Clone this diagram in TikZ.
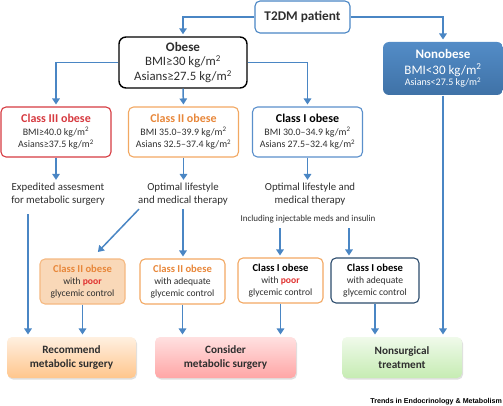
\documentclass[tikz,border=0pt]{standalone}
\usepackage{fontspec}
\setmainfont{Carlito}
\newfontfamily\trendsfont{Liberation Sans}
\usetikzlibrary{positioning,arrows.meta,shadows}
\definecolor{flowblue}{HTML}{4A86C4}
\definecolor{inkgray}{HTML}{2E2E2E}
\definecolor{cthree}{HTML}{D63A40}
\definecolor{ctwo}{HTML}{F2A862}
\definecolor{ctwotext}{HTML}{E8873A}
\definecolor{cone}{HTML}{5A8FCB}
\definecolor{navy}{HTML}{2B4B6C}
\definecolor{poorred}{HTML}{E0312F}
\newcommand\fsz[2]{\fontsize{#1}{#2}\selectfont}
\tikzset{
  box/.style={draw, rounded corners=5pt, line width=1.1pt, align=center, text=inkgray, inner sep=1pt},
  classbox/.style={box, minimum width=110pt, minimum height=50pt, font=\fsz{9.9}{12.5}},
  glybox/.style={box, minimum width=85pt, minimum height=45pt, font=\fsz{9.6}{12}},
  endbox/.style={box, draw=none, minimum height=41pt, font=\fsz{11.2}{14}\bfseries,
    drop shadow={shadow xshift=1pt, shadow yshift=-1.5pt, opacity=0.25}},
  note/.style={align=center, text=inkgray, inner sep=1pt, font=\fsz{10.8}{12.5}},
  flow/.style={draw=flowblue, line width=1.5pt, -{Triangle[length=6pt,width=7.5pt]}, shorten >=2pt},
}
\begin{document}
\begin{tikzpicture}[x=1pt,y=-1pt]
\useasboundingbox (0,0) rectangle (503,406);

\node[box, draw=flowblue, minimum width=95pt, minimum height=32pt, font=\fsz{13.3}{15}\bfseries] (t) at (302.5,17) {T2DM patient};
\node[box, draw=black, line width=1.4pt, rounded corners=7pt, minimum width=128pt, minimum height=51pt, font=\fsz{12.8}{14.5}] (o) at (183,62.5)
  {{\fsz{13}{14.5}\bfseries Obese}\\BMI≥30 kg/m\textsuperscript{2}\\Asians≥27.5 kg/m\textsuperscript{2}};
\node[box, draw=none, top color=flowblue!95, bottom color=flowblue!85!black, rounded corners=6pt, text=white, minimum width=120pt, minimum height=53pt, font=\fsz{13}{15.5}] (n) at (443,68.5)
  {{\bfseries Nonobese}\\BMI<30 kg/m\textsuperscript{2}\\[-4pt]{\fsz{10}{11}Asians<27.5 kg/m\textsuperscript{2}}};

\node[classbox, draw=cthree] (c3) at (56,132)
  {{\fsz{12}{12.5}\bfseries\color{cthree}Class III obese}\\BMI≥40.0 kg/m\textsuperscript{2}\\Asians≥37.5 kg/m\textsuperscript{2}};
\node[classbox, draw=ctwo] (c2) at (183.5,132)
  {{\fsz{12}{12.5}\bfseries\color{ctwotext}Class II obese}\\BMI 35.0--39.9 kg/m\textsuperscript{2}\\Asians 32.5--37.4 kg/m\textsuperscript{2}};
\node[classbox, draw=cone] (c1) at (307.5,132)
  {{\fsz{12}{12.5}\bfseries\color{black}Class I obese}\\BMI 30.0--34.9 kg/m\textsuperscript{2}\\Asians 27.5--32.4 kg/m\textsuperscript{2}};

\node[note] (x3) at (58,194) {Expedited assesment\\for metabolic surgery};
\node[note] (x2) at (183,194) {Optimal lifestyle\\and medical therapy};
\node[note] (x1) at (310,194) {Optimal lifestyle and\\medical therapy};
\node[note, font=\fsz{9}{10}] (inc) at (308,219) {Including injectable meds and insulin};

\node[glybox, draw=ctwo!80, fill=ctwo!45] (p2) at (82.5,281.5)
  {{\fsz{10.6}{12}\bfseries\color{ctwotext}Class II obese}\\with {\bfseries\color{poorred}poor}\\glycemic control};
\node[glybox, draw=ctwo] (a2) at (182.5,281.5)
  {{\fsz{10.6}{12}\bfseries\color{ctwotext}Class II obese}\\with adequate\\glycemic control};
\node[glybox, draw=ctwo] (p1) at (280.5,280.5)
  {{\fsz{10.6}{12}\bfseries\color{black}Class I obese}\\with {\bfseries\color{poorred}poor}\\glycemic control};
\node[glybox, draw=navy, minimum width=88pt] (a1) at (375,280.5)
  {{\fsz{10.6}{12}\bfseries\color{black}Class I obese}\\with adequate\\glycemic control};

\node[endbox, minimum width=129pt, top color=orange!12, bottom color=orange!45] (rec) at (71.5,357.5) {Recommend\\metabolic surgery};
\node[endbox, minimum width=141pt, top color=red!12, bottom color=red!35] (con) at (225.5,357.5) {Consider\\metabolic surgery};
\node[endbox, minimum width=120pt, top color=green!50!olive!8, bottom color=green!50!olive!30] (non) at (402,357.5) {Nonsurgical\\treatment};

\node[anchor=base east, inner sep=0pt, font=\trendsfont\bfseries\fsz{7.1}{9}] (src) at (502,403) {Trends in Endocrinology \& Metabolism};

\coordinate (l) at (28,214);

\draw[flow] (t.west) -| (o.north);
\draw[flow] (t.east) -| (n.north);
\draw[flow] (o.west) -| (c3.north);
\draw[flow] (o.south) -- (c2.north);
\draw[flow] (o.east) -| (c1.north);
\draw[flow] (c3.south) -- (c3.south |- x3.north);
\draw[flow] (c2.south) -- (c2.south |- x2.north);
\draw[flow] (c1.south) -- (c1.south |- x1.north);
\draw[flow] (l) -- (l |- rec.north);
\draw[flow] ([xshift=-44pt,yshift=-3pt]x2.south) -- ([xshift=14pt,yshift=5pt]p2.north);
\draw[flow] ([yshift=-3pt]x2.south) -- (x2.south |- a2.north);
\draw[flow] ([xshift=-28pt,yshift=-4pt]inc.south) -- ([xshift=-28pt]inc.south |- p1.north);
\draw[flow] ([xshift=41pt,yshift=-4pt]inc.south) -- ([xshift=41pt]inc.south |- a1.north);
\draw[flow] (p2.south) -- (p2.south |- rec.north);
\draw[flow] (a2.south) -- (a2.south |- con.north);
\draw[flow] (p1.south) -- (p1.south |- con.north);
\draw[flow] (a1.south) -- (a1.south |- non.north);
\draw[flow] (n.south) -- (n.south |- non.north);
\end{tikzpicture}
\end{document}
